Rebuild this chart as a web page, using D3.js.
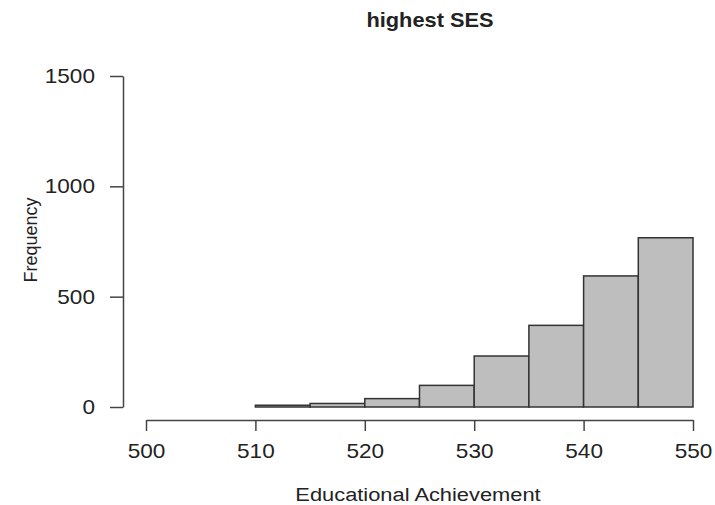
<!DOCTYPE html>
<html><head><meta charset="utf-8">
<script src="https://cdn.jsdelivr.net/npm/d3@7"></script>
<style>body{margin:0;background:#fff}svg{display:block}text{font-family:"Liberation Sans",Arial,sans-serif;fill:#222}</style>
</head><body><svg id="c" width="715" height="505"></svg>
<script>
const binStarts = [510,515,520,525,530,535,540,545];
const counts = [8,16,38,98,231,370,594,767];
const binWidth = 5;
const xTicks = [500,510,520,530,540,550];
const yTicks = [0,500,1000,1500];

const SX = 1.13;
const svg = d3.select("#c");
const x = d3.scaleLinear().domain([500,550]).range([146,693]);
const y = d3.scaleLinear().domain([0,1500]).range([407,76]);

svg.append("g").selectAll("rect").data(binStarts).join("rect")
  .attr("x", d=>x(d)).attr("width", d=>x(d+binWidth)-x(d))
  .attr("y", (d,i)=>y(counts[i])).attr("height",(d,i)=>y(0)-y(counts[i]))
  .attr("fill","#bebebe").attr("stroke","#333").attr("stroke-width",1.5);

const xa = svg.append("g").attr("transform","translate(0,420)")
  .call(d3.axisBottom(x).tickValues(xTicks).tickFormat(d3.format("d")).tickSize(11).tickPadding(13).tickSizeOuter(0));
const ya = svg.append("g").attr("transform","translate(123,0)")
  .call(d3.axisLeft(y).tickValues(yTicks).tickFormat(d3.format("d")).tickSize(13).tickPadding(15).tickSizeOuter(0));
[xa,ya].forEach(a=>{
  a.attr("font-size",null).attr("font-family",null);
  a.select(".domain").attr("stroke","#444").attr("stroke-width",1.5);
  a.selectAll(".tick line").attr("stroke","#444").attr("stroke-width",1.5);
  a.selectAll(".tick text").style("font-size","20px").attr("fill","#222")
   .attr("x", function(){ return (+this.getAttribute("x")||0)/SX; })
   .attr("transform",`scale(${SX},1)`);
});

svg.append("text").attr("transform","translate(430,27) scale(1.09,1)").attr("text-anchor","middle")
  .style("font-size","20px").attr("font-weight","bold").attr("fill","#111").text("highest SES");
svg.append("text").attr("transform","translate(418,501) scale(1.15,1)").attr("text-anchor","middle")
  .style("font-size","19px").text("Educational Achievement");
svg.append("text").attr("transform","translate(37,240) rotate(-90)")
  .attr("text-anchor","middle").style("font-size","18px").text("Frequency");
</script></body></html>
